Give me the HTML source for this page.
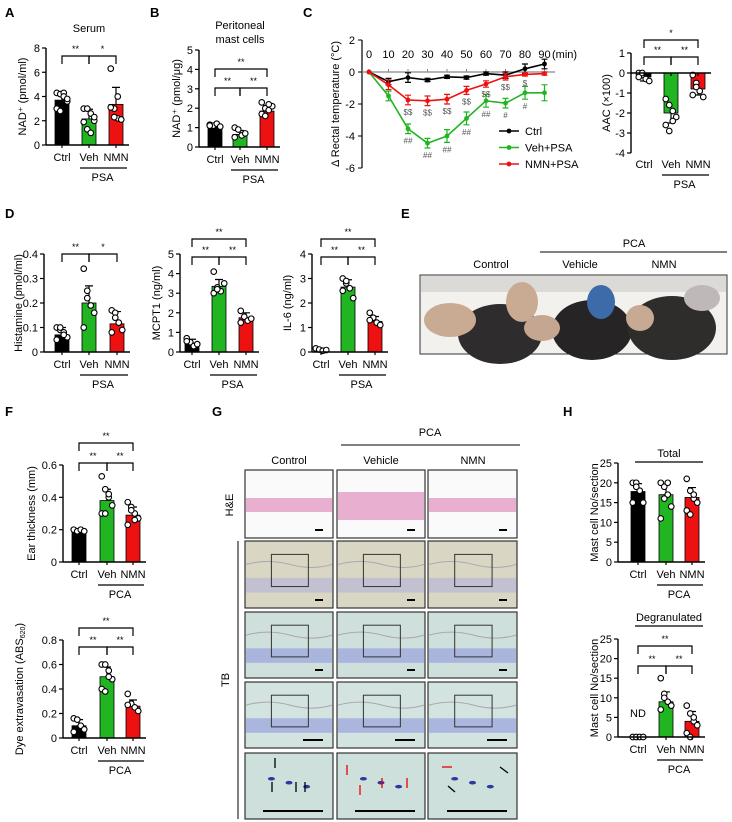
<!DOCTYPE html>
<html><head><meta charset="utf-8">
<style>
html,body{margin:0;padding:0;background:#fff;}
svg{display:block;font-family:"Liberation Sans",Arial,sans-serif;}
</style></head>
<body>
<svg id="fig" width="732" height="822" viewBox="0 0 732 822" xmlns="http://www.w3.org/2000/svg">
<g id="letters" font-weight="bold" font-size="13">
<text x="5" y="17">A</text>
<text x="150" y="17">B</text>
<text x="303" y="17">C</text>
<text x="5" y="218">D</text>
<text x="401" y="218">E</text>
<text x="5" y="416">F</text>
<text x="212" y="416">G</text>
<text x="563" y="416">H</text>
</g>
<!-- Panel E photo -->
<g>
<text x="634" y="247" font-size="11" text-anchor="middle">PCA</text>
<line x1="540" y1="252" x2="727" y2="252" stroke="#000" stroke-width="1"/>
<text x="491" y="268" font-size="11" text-anchor="middle">Control</text>
<text x="580" y="268" font-size="11" text-anchor="middle">Vehicle</text>
<text x="664" y="268" font-size="11" text-anchor="middle">NMN</text>
<rect x="420" y="275" width="307" height="79" fill="#f2f1ee" stroke="#333"/>
<rect x="421" y="276" width="305" height="16" fill="#dcdad6"/>
<ellipse cx="500" cy="334" rx="42" ry="30" fill="#2e2c2c"/>
<ellipse cx="450" cy="320" rx="26" ry="17" fill="#c9ab94"/>
<ellipse cx="522" cy="302" rx="16" ry="20" fill="#c9ab94"/>
<ellipse cx="592" cy="330" rx="40" ry="30" fill="#262424"/>
<ellipse cx="542" cy="328" rx="18" ry="13" fill="#c5a690"/>
<ellipse cx="601" cy="302" rx="14" ry="17" fill="#3d6aa8"/>
<ellipse cx="672" cy="328" rx="44" ry="32" fill="#2f2d2c"/>
<ellipse cx="640" cy="318" rx="14" ry="13" fill="#c8a993"/>
<ellipse cx="702" cy="298" rx="18" ry="13" fill="#bfb8b8"/>
</g>
<!-- Panel G histology -->
<g id="gpanel">
<text x="430" y="436" font-size="11" text-anchor="middle">PCA</text>
<line x1="341" y1="445" x2="520" y2="445" stroke="#000"/>
<text x="289" y="464" font-size="11" text-anchor="middle">Control</text>
<text x="381" y="464" font-size="11" text-anchor="middle">Vehicle</text>
<text x="473" y="464" font-size="11" text-anchor="middle">NMN</text>
<text transform="translate(233,505) rotate(-90)" font-size="11" text-anchor="middle">H&amp;E</text>
<line x1="238" y1="541" x2="238" y2="819" stroke="#000"/>
<text transform="translate(229,680) rotate(-90)" font-size="11" text-anchor="middle">TB</text>
</g>
<g id="charts"></g>
</svg>
<script>
const NS="http://www.w3.org/2000/svg";
const root=document.getElementById('charts');
function el(tag,attrs,parent,txt){const e=document.createElementNS(NS,tag);for(const k in attrs)e.setAttribute(k,attrs[k]);if(txt!==undefined)e.textContent=txt;(parent||root).appendChild(e);return e;}
const COLORS=['#000000','#22b522','#ee1111'];
const GROUPS=['Ctrl','Veh','NMN'];

// ---------- data ----------
const aVals=[3.7,2.15,3.35], aErr=[0.6,0.8,1.4];
const aPts=[[4.3,4.2,4.3,3.6,3.0,2.8,4.0,3.8],[3.0,3.0,2.6,2.0,1.9,1.3,1.0,2.3],[6.3,3.0,2.2,2.1,3.1,2.3,4.0]];
const aTicks=[0,2,4,6,8];
const bVals=[1.1,0.65,1.85], bErr=[0.08,0.2,0.3];
const bPts=[[1.15,1.1,1.2,1.05,1.1],[1.0,0.9,0.6,0.7,0.5],[2.3,2.0,1.9,2.1,1.7,1.6,2.2]];
const bTicks=[0,1,2,3,4,5];
const cTime=[0,10,20,30,40,50,60,70,80,90];
const cCtrl=[0,-0.6,-0.35,-0.5,-0.3,-0.35,-0.1,-0.2,0.2,0.5];
const cCtrlErr=[0,0.2,0.3,0.1,0.1,0.1,0.1,0.2,0.3,0.3];
const cVeh=[0,-1.5,-3.55,-4.45,-4.0,-2.9,-1.8,-1.95,-1.3,-1.3];
const cVehErr=[0,0.3,0.3,0.3,0.4,0.4,0.4,0.3,0.4,0.5];
const cNmn=[0,-0.8,-1.75,-1.8,-1.7,-1.15,-0.75,-0.3,-0.15,-0.1];
const cNmnErr=[0,0.3,0.3,0.3,0.3,0.25,0.2,0.2,0.1,0.1];
const cVehSig=['','','##','##','##','##','##','#','#',''];
const cNmnSig=['','','$$','$$','$$','$$','$$','$$','$',''];
const cYTicks=[2,0,-2,-4,-6];
const aacVals=[-0.2,-2.0,-0.8], aacErr=[0.2,0.5,0.3];
const aacPts=[[0,-0.1,-0.3,-0.4,-0.2,0],[-1.3,-1.6,-1.9,-2.2,-2.6,-2.9,-2.4],[-0.1,-0.5,-0.9,-1.2,-1.1,-0.7]];
const aacTicks=[1,0,-1,-2,-3,-4];
const hisVals=[0.07,0.2,0.115], hisErr=[0.03,0.07,0.05];
const hisPts=[[0.1,0.09,0.08,0.06,0.05,0.1,0.07],[0.34,0.22,0.19,0.16,0.1,0.25],[0.17,0.16,0.12,0.09,0.08,0.14]];
const hisTicks=[0,0.1,0.2,0.3,0.4];
const mcVals=[0.45,3.35,1.75], mcErr=[0.2,0.35,0.25];
const mcPts=[[0.7,0.5,0.3,0.4,0.55],[4.1,3.3,3.1,3.5,3.0,3.2],[2.1,1.8,1.6,1.7,1.5]];
const mcTicks=[0,1,2,3,4,5];
const ilVals=[0.08,2.65,1.25], ilErr=[0.05,0.3,0.2];
const ilPts=[[0.15,0.1,0.05,0.08],[3.0,2.8,2.6,2.2,2.5,2.9],[1.6,1.4,1.2,1.1,1.3]];
const ilTicks=[0,1,2,3,4];
const earVals=[0.19,0.38,0.29], earErr=[0.01,0.07,0.05];
const earPts=[[0.2,0.19,0.2,0.19],[0.53,0.45,0.4,0.35,0.3,0.3,0.42],[0.37,0.34,0.3,0.27,0.23,0.32,0.26]];
const earTicks=[0,0.2,0.4,0.6];
const dyeVals=[0.1,0.5,0.26], dyeErr=[0.05,0.08,0.05];
const dyePts=[[0.16,0.15,0.1,0.07,0.05],[0.6,0.6,0.55,0.48,0.4,0.38,0.5],[0.36,0.28,0.25,0.22,0.27]];
const dyeTicks=[0,0.2,0.4,0.6,0.8];
const totVals=[17.8,17,16.3], totErr=[2,2.5,2.5];
const totPts=[[20,20,18,15,15,19],[20,19,17,14,11,16,20],[21,18,16,15,13,12,17]];
const totTicks=[0,5,10,15,20,25];
const degVals=[0,9,4], degErr=[0,2.5,2.5];
const degPts=[[0,0,0,0],[15,11,9,8,7,10],[8,6,4,3,1,0,5]];
const degTicks=[0,5,10,15,20,25];

function barChart(c){
  const g=el('g',{});
  
  
  const sc=v=>c.y0+(v-c.min)*(c.yTop-c.y0)/(c.max-c.min);
  const zero=sc(Math.max(c.min,Math.min(0,c.max)));
  const right=c.centers[2]+13;
  el('line',{x1:c.ax,y1:sc(c.max),x2:c.ax,y2:sc(c.min),stroke:'#000','stroke-width':1.4},g);
  c.ticks.forEach(t=>{
    const tk=el('line',{x1:c.ax-4,y1:sc(t),x2:c.ax,y2:sc(t),stroke:'#000','stroke-width':1.2},g);
    
    
    const lb=el('text',{x:c.ax-6,y:sc(t)+4,'font-size':11,'text-anchor':'end'},g,String(t));
    
    
  });
  c.vals.forEach((v,i)=>{
    const x=c.centers[i];const y=sc(v);
    const b=el('rect',{x:x-7,y:Math.min(y,zero),width:14,height:Math.max(0.01,Math.abs(zero-y)),fill:COLORS[i],stroke:'#000','stroke-width':0.8},g);
    
    
    const e=c.err[i];
    const dir=v<0?-1:1;
    const ye=sc(v+dir*e);
    if(e>0){
      const eb=el('path',{d:`M${x} ${y}V${ye}M${x-4} ${ye}H${x+4}`,stroke:'#000','stroke-width':1.2,fill:'none'},g);
      
      
    }
    c.pts[i].forEach((p,j)=>{
      const off=((j%4)-1.5)*3.5;
      const d=el('circle',{cx:x+off,cy:sc(p),r:2.8,fill:'#fff',stroke:'#000','stroke-width':1.1},g);
      
      
    });
  });
  el('line',{x1:c.ax,y1:zero,x2:right,y2:zero,stroke:'#000','stroke-width':1.4},g);
  c.centers.forEach((x,i)=>{
    el('line',{x1:x,y1:zero,x2:x,y2:zero+3,stroke:'#000','stroke-width':1.2},g);
    const t=el('text',{x:x,y:c.labY,'font-size':11,'text-anchor':'middle'},g,GROUPS[i]);
    
    
  });
  const gl=el('line',{x1:c.centers[1]-9,y1:c.labY+7,x2:c.centers[2]+11,y2:c.labY+7,stroke:'#000','stroke-width':1.2},g);
  
  
  const gt=el('text',{x:(c.centers[1]+c.centers[2])/2,y:c.labY+20,'font-size':11,'text-anchor':'middle'},g,c.group);
  
  
  const yt=el('text',{transform:`translate(${c.ylx},${(sc(c.max)+sc(c.min))/2}) rotate(-90)`,'font-size':11,'text-anchor':'middle'},g,c.ytitle);
  
  
  if(c.ysub){el('tspan',{'font-size':7,dy:2},yt,c.ysub);el('tspan',{dy:-2},yt,')');}
  (c.br||[]).forEach(b=>{
    const x1=c.centers[b[0]],x2=c.centers[b[1]],y=b[2];
    const p=el('path',{d:`M${x1} ${y+8}V${y}H${x2}V${y+8}`,stroke:'#000','stroke-width':1.2,fill:'none'},g);
    
    
    const s=el('text',{x:(x1+x2)/2,y:y-4,'font-size':9,'text-anchor':'middle'},g,b[3]);
    
    
  });
  if(c.title){c.title.forEach((t,k)=>{const tt=el('text',{x:c.centers[1],y:c.titleY+k*14,'font-size':11,'text-anchor':'middle'},g,t);});}
  return {g,sc};
}

barChart({name:'panel-a-serum',ax:46,y0:145,yTop:48,min:0,max:8,ticks:aTicks,centers:[62,89,116],vals:aVals,err:aErr,pts:aPts,labY:161,group:'PSA',ylx:26,ytitle:'NAD⁺ (pmol/ml)',br:[[0,1,56,'**'],[1,2,56,'*']],title:['Serum'],titleY:32});
barChart({name:'panel-b-mast-cells',ax:199,y0:147,yTop:50,min:0,max:5,ticks:bTicks,centers:[215,240,267],vals:bVals,err:bErr,pts:bPts,labY:163,group:'PSA',ylx:180,ytitle:'NAD⁺ (pmol/μg)',br:[[0,1,88,'**'],[1,2,88,'**'],[0,2,69,'**']],title:['Peritoneal','mast cells'],titleY:29});
barChart({name:'panel-c-aac',ax:631,y0:153,yTop:53,min:-4,max:1,ticks:aacTicks,centers:[644,671,698],vals:aacVals,err:aacErr,pts:aacPts,labY:168,group:'PSA',ylx:610,ytitle:'AAC (×100)',br:[[0,1,57,'**'],[1,2,57,'**'],[0,2,40,'*']]});
barChart({name:'panel-d-histamine',ax:44,y0:352,yTop:254,min:0,max:0.4,ticks:hisTicks,centers:[62,89,117],vals:hisVals,err:hisErr,pts:hisPts,labY:368,group:'PSA',ylx:22,ytitle:'Histamine (pmol/ml)',br:[[0,1,254,'**'],[1,2,254,'*']]});
barChart({name:'panel-d-mcpt1',ax:180,y0:352,yTop:254,min:0,max:5,ticks:mcTicks,centers:[192,219,246],vals:mcVals,err:mcErr,pts:mcPts,labY:368,group:'PSA',ylx:160,ytitle:'MCPT1 (ng/ml)',br:[[0,1,257,'**'],[1,2,257,'**'],[0,2,239,'**']]});
barChart({name:'panel-d-il6',ax:312,y0:352,yTop:254,min:0,max:4,ticks:ilTicks,centers:[321,348,375],vals:ilVals,err:ilErr,pts:ilPts,labY:368,group:'PSA',ylx:291,ytitle:'IL-6 (ng/ml)',br:[[0,1,257,'**'],[1,2,257,'**'],[0,2,239,'**']]});
barChart({name:'panel-f-ear-thickness',ax:63,y0:562,yTop:465,min:0,max:0.6,ticks:earTicks,centers:[79,107,133],vals:earVals,err:earErr,pts:earPts,labY:578,group:'PCA',ylx:35,ytitle:'Ear thickness (mm)',br:[[0,1,463,'**'],[1,2,463,'**'],[0,2,443,'**']]});
barChart({name:'panel-f-dye-extravasation',ax:63,y0:738,yTop:640,min:0,max:0.8,ticks:dyeTicks,centers:[79,107,133],vals:dyeVals,err:dyeErr,pts:dyePts,labY:754,group:'PCA',ylx:23,ytitle:'Dye extravasation (ABS',ysub:'620',br:[[0,1,647,'**'],[1,2,647,'**'],[0,2,628,'**']]});
barChart({name:'panel-h-total',ax:618,y0:562,yTop:463,min:0,max:25,ticks:totTicks,centers:[638,666,692],vals:totVals,err:totErr,pts:totPts,labY:578,group:'PCA',ylx:598,ytitle:'Mast cell No/section'});
barChart({name:'panel-h-degranulated',ax:618,y0:737,yTop:639,min:0,max:25,ticks:degTicks,centers:[638,666,692],vals:degVals,err:degErr,pts:degPts,labY:753,group:'PCA',ylx:598,ytitle:'Mast cell No/section',br:[[0,1,666,'**'],[1,2,666,'**'],[0,2,646,'**']]});
(function(){
  let t=el('text',{x:669,y:457,'font-size':11,'text-anchor':'middle'},root,'Total');
  
  el('line',{x1:635,y1:462,x2:703,y2:462,stroke:'#000','stroke-width':1.2});
  t=el('text',{x:669,y:621,'font-size':11,'text-anchor':'middle'},root,'Degranulated');
  
  el('line',{x1:635,y1:626,x2:703,y2:626,stroke:'#000','stroke-width':1.2});
  t=el('text',{x:638,y:717,'font-size':11,'text-anchor':'middle'},root,'ND');
  
})();

// ---------- line chart C ----------
(function(){
  const g=el('g',{});
  
  
  const xs=t=>369+t*1.95;
  const ys=v=>72-v*16;
  el('line',{x1:362,y1:ys(2),x2:362,y2:ys(-6),stroke:'#000','stroke-width':1.2},g);
  cYTicks.forEach(t=>{
    el('line',{x1:358,y1:ys(t),x2:362,y2:ys(t),stroke:'#000'},g);
    const l=el('text',{x:355,y:ys(t)+4,'font-size':11,'text-anchor':'end'},g,String(t));
    
  });
  el('line',{x1:362,y1:ys(0),x2:555,y2:ys(0),stroke:'#888','stroke-width':1.2},g);
  cTime.forEach(t=>{
    el('line',{x1:xs(t),y1:ys(0),x2:xs(t),y2:ys(0)-3,stroke:'#888'},g);
    const l=el('text',{x:xs(t),y:58,'font-size':11,'text-anchor':'middle'},g,String(t));
    
  });
  let l=el('text',{x:552,y:58,'font-size':11},g,'(min)');
  
  l=el('text',{transform:`translate(339,${ys(-2)}) rotate(-90)`,'font-size':11,'text-anchor':'middle'},g,'Δ Rectal temperature (°C)');
  
  const series=[[cCtrl,cCtrlErr,'#000','ctrl'],[cVeh,cVehErr,'#22b522','veh-psa'],[cNmn,cNmnErr,'#ee1111','nmn-psa']];
  series.forEach(s=>{
    const pl=el('polyline',{points:cTime.map((t,i)=>xs(t)+','+ys(s[0][i])).join(' '),fill:'none',stroke:s[2],'stroke-width':1.6},g);
    
    cTime.forEach((t,i)=>{
      const x=xs(t),y1=ys(s[0][i]+s[1][i]),y2=ys(s[0][i]-s[1][i]);
      if(s[1][i]>0)el('path',{d:`M${x} ${y1}V${y2}M${x-3} ${y1}H${x+3}M${x-3} ${y2}H${x+3}`,stroke:s[2],'stroke-width':1.2,fill:'none'},g);
      const p=el('circle',{cx:x,cy:ys(s[0][i]),r:2.4,fill:s[2]},g);
      
    });
  });
  cTime.forEach((t,i)=>{
    if(cVehSig[i]){const s=el('text',{x:xs(t),y:ys(cVeh[i]-cVehErr[i])+10,'font-size':8,fill:'#555','text-anchor':'middle'},g,cVehSig[i]);}
    if(cNmnSig[i]){const s=el('text',{x:xs(t),y:ys(cNmn[i]-cNmnErr[i])+10,'font-size':8,fill:'#555','text-anchor':'middle'},g,cNmnSig[i]);}
  });
  const leg=[['Ctrl','#000'],['Veh+PSA','#22b522'],['NMN+PSA','#ee1111']];
  leg.forEach((e,k)=>{
    const y=131+k*16.5;
    const lg=el('g',{},g);
    
    el('line',{x1:499,y1:y,x2:519,y2:y,stroke:e[1],'stroke-width':1.6},lg);
    el('circle',{cx:509,cy:y,r:2.4,fill:e[1]},lg);
    el('text',{x:525,y:y+4,'font-size':11},lg,e[0]);
  });
})();

// ---------- G tiles ----------
(function(){
  const gp=document.getElementById('gpanel');
  const cols=[[245,88],[337,88],[428,89]];
  const rows=[[470,68],[541,67],[612,66],[682,66],[753,66]];
  const bgs=['#fbfafa','#d9d6c4','#cfe0dc','#d3e3e0','#cde0dc'];
  rows.forEach((r,ri)=>cols.forEach((c,ci)=>{
    const t=el('rect',{x:c[0],y:r[0],width:c[1],height:r[1],fill:bgs[ri],stroke:'#333','stroke-width':1.2},gp);
    
    if(ri==0){el('rect',{x:c[0]+1,y:r[0]+28-(ci==1?6:0),width:c[1]-2,height:ci==1?28:14,fill:'#e6a6cc',opacity:0.9},gp);}
    else if(ri<4){el('path',{d:`M${c[0]+1} ${r[0]+r[1]*0.35}q${c[1]/4} -6 ${c[1]/2} 0t${c[1]/2-2} 0`,stroke:'#a9a6b0',fill:'none','stroke-width':1},gp);
      el('rect',{x:c[0]+1,y:r[0]+r[1]*0.55,width:c[1]-2,height:r[1]*0.22,fill:ri==1?'#b8b8d8':'#9aa2de',opacity:0.7},gp);
      el('rect',{x:c[0]+c[1]*0.3,y:r[0]+r[1]*0.2,width:c[1]*0.42,height:r[1]*0.48,fill:'none',stroke:'#333'},gp);}
    else{ [0.3,0.5,0.7].forEach(f=>el('ellipse',{cx:c[0]+c[1]*f,cy:r[0]+r[1]*(0.3+f*0.3),rx:3.5,ry:1.8,fill:'#2a3aa0'},gp)); }
    el('line',{x1:c[0]+c[1]-(ri==4?70:ri==3?30:18),y1:r[0]+r[1]-8,x2:c[0]+c[1]-10,y2:r[0]+r[1]-8,stroke:'#000','stroke-width':2},gp);
  }));
  // arrows in last row
  const arrows=[[275,758,275,768,'#000'],[272,792,272,782,'#000'],[296,792,296,782,'#000'],[305,792,305,782,'#000'],[347,765,347,775,'#e00'],[360,785,360,795,'#e00'],[382,778,382,788,'#e00'],[407,778,407,788,'#e00'],[442,767,452,767,'#e00'],[455,792,448,786,'#000'],[500,767,508,773,'#000']];
  arrows.forEach(a=>{
    const ar=el('line',{x1:a[0],y1:a[1],x2:a[2],y2:a[3],stroke:a[4],'stroke-width':1.3},gp);
    
  });
})();
</script>
</body></html>
